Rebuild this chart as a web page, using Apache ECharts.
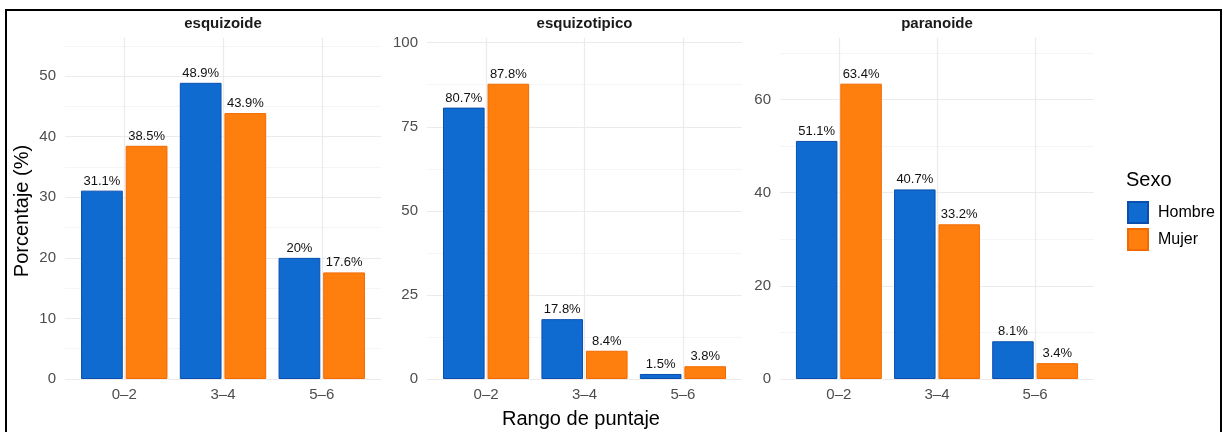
<!DOCTYPE html>
<html>
<head>
<meta charset="utf-8">
<script src="https://cdn.jsdelivr.net/npm/echarts@6/dist/echarts.min.js"></script>
<style>
html,body{margin:0;padding:0;background:#fff;}
#frame{position:absolute;left:5px;top:9px;width:1217px;height:440px;border:2px solid #000;box-sizing:border-box;}
#chart{position:absolute;left:0;top:0;width:1227px;height:432px;}
</style>
</head>
<body>
<div id="frame"></div>
<div id="chart"></div>
<script>
// ---- data ----
const categories = ['0–2', '3–4', '5–6'];
const panelNames = ['esquizoide', 'esquizotipico', 'paranoide'];
const hombreEsquizoide = [31.1, 48.9, 20];
const mujerEsquizoide = [38.5, 43.9, 17.6];
const hombreEsquizotipico = [80.7, 17.8, 1.5];
const mujerEsquizotipico = [87.8, 8.4, 3.8];
const hombreParanoide = [51.1, 40.7, 8.1];
const mujerParanoide = [63.4, 33.2, 3.4];
const seriesNames = ['Hombre', 'Mujer'];
const yTickInterval = [10, 25, 20];
const yUpper = [56.3, 101.4, 73.2];

const hombre = [hombreEsquizoide, hombreEsquizotipico, hombreParanoide];
const mujer = [mujerEsquizoide, mujerEsquizotipico, mujerParanoide];

// ---- layout ----
const FONT = "'Liberation Sans', Arial, Helvetica, sans-serif";
const panelLeft = [65, 427, 780];
const panelRight = [381, 742, 1094];
const TOP = 38, BOTTOM = 53;
const blue = '#0f6bcf', blueBorder = '#0b4fae';
const orange = '#ff7f0e', orangeBorder = '#f26a00';

const grid = [], xAxis = [], yAxis = [], series = [], graphic = [];
panelNames.forEach((name, p) => {
  const L = panelLeft[p], R = panelRight[p];
  const W = R - L;
  const unit = W / 3.2;
  const major = yTickInterval[p];
  grid.push({left: L, top: TOP, width: W, bottom: BOTTOM, containLabel: false});
  grid.push({left: L + 0.1 * unit, top: TOP, width: 3 * unit, bottom: BOTTOM, containLabel: false});
  const gB = 2 * p, gA = 2 * p + 1;
  xAxis.push({gridIndex: gB, type: 'value', min: 0, max: 1, show: false});
  xAxis.push({
    gridIndex: gA, type: 'category', data: categories, boundaryGap: true,
    axisLine: {show: false}, axisTick: {show: false, alignWithLabel: true},
    axisLabel: {color: '#4d4d4d', fontSize: 15, fontFamily: FONT, margin: 8},
    splitLine: {show: true, alignWithLabel: true, lineStyle: {color: '#ebebeb', width: 1.2}}
  });
  yAxis.push({
    gridIndex: gB, type: 'value', min: 0, max: yUpper[p], interval: major / 2,
    axisLine: {show: false}, axisTick: {show: false},
    axisLabel: {color: '#4d4d4d', fontSize: 15, fontFamily: FONT, margin: 9,
      showMaxLabel: false,
      formatter: (v) => (Math.abs(v / major - Math.round(v / major)) < 1e-6 ? String(v) : '')},
    splitLine: {show: true, showMaxLine: false,
      lineStyle: {color: ['#ebebeb', '#f5f5f5'], width: 1.2}}
  });
  yAxis.push({gridIndex: gA, type: 'value', min: 0, max: yUpper[p], show: false});
  const lbl = {
    show: true, position: 'top', distance: 3, color: '#111', fontSize: 13, fontFamily: FONT,
    formatter: (d) => d.value + '%'
  };
  series.push({
    name: seriesNames[0], type: 'bar', xAxisIndex: gA, yAxisIndex: gA,
    data: hombre[p], barCategoryGap: '12.5%', barGap: '7%',
    itemStyle: {color: blue, borderColor: blueBorder, borderWidth: 1},
    label: lbl
  });
  series.push({
    name: seriesNames[1], type: 'bar', xAxisIndex: gA, yAxisIndex: gA,
    data: mujer[p], barCategoryGap: '12.5%', barGap: '7%',
    itemStyle: {color: orange, borderColor: orangeBorder, borderWidth: 1},
    label: lbl
  });
  graphic.push({
    type: 'text', x: (L + R) / 2, y: 24,
    style: {text: name, font: 'bold 15px ' + FONT, fill: '#1a1a1a', textAlign: 'center', textVerticalAlign: 'middle'}
  });
});

graphic.push({
  type: 'text', x: 22, y: 211, rotation: Math.PI / 2,
  style: {text: 'Porcentaje (%)', font: '20px ' + FONT, fill: '#000', textAlign: 'center', textVerticalAlign: 'middle'}
});
graphic.push({
  type: 'text', x: 581, y: 419,
  style: {text: 'Rango de puntaje', font: '20px ' + FONT, fill: '#000', textAlign: 'center', textVerticalAlign: 'middle'}
});
graphic.push({
  type: 'text', x: 1126, y: 180,
  style: {text: 'Sexo', font: '20px ' + FONT, fill: '#000', textAlign: 'left', textVerticalAlign: 'middle'}
});

const chart = echarts.init(document.getElementById('chart'), null, {renderer: 'canvas'});
chart.setOption({
  animation: false,
  backgroundColor: 'transparent',
  grid, xAxis, yAxis, series, graphic,
  legend: {
    data: seriesNames, orient: 'vertical', left: 1127, top: 201,
    itemWidth: 20, itemHeight: 21, itemGap: 4, icon: 'rect',
    textStyle: {fontSize: 16, fontFamily: FONT, color: '#000', padding: [0, 0, 0, 5]},
    padding: 0
  }
});
</script>
</body>
</html>
